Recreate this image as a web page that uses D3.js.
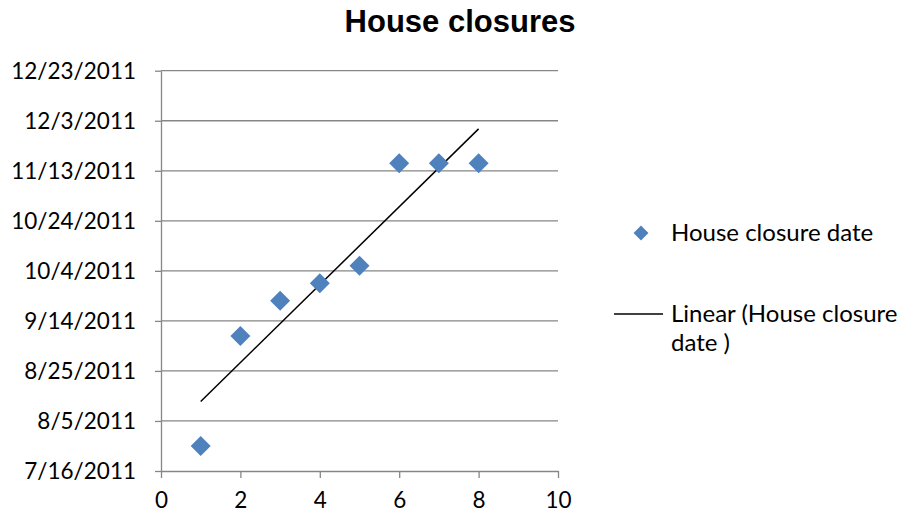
<!DOCTYPE html>
<html>
<head>
<meta charset="utf-8">
<script src="https://cdn.jsdelivr.net/npm/d3@7"></script>
<style>
  body { margin: 0; background: #fff; }
  text { font-family: Lato, "Liberation Sans", sans-serif; fill: #000; }
</style>
</head>
<body>
<div class="visuals"></div>
<script>
// house numbers and the closure date
const houses = [1, 2, 3, 4, 5, 6, 7, 8];
const closureDates = ["2011-07-26", "2011-09-08", "2011-09-22", "2011-09-29",
                      "2011-10-06", "2011-11-16", "2011-11-16", "2011-11-16"];
const xTicks = [0, 2, 4, 6, 8, 10];
const yTickLabels = ["7/16/2011", "8/5/2011", "8/25/2011", "9/14/2011", "10/4/2011",
                     "10/24/2011", "11/13/2011", "12/3/2011", "12/23/2011"];

const parse = d3.timeParse("%Y-%m-%d");
const parseLabel = d3.timeParse("%m/%d/%Y");
const points = houses.map((h, i) => ({ x: h, date: parse(closureDates[i]) }));
const yTicks = yTickLabels.map(s => parseLabel(s));

const width = 907, height = 518;
const fs = 22.5;
const svg = d3.select(".visuals").append("svg")
  .attr("width", width).attr("height", height);

const x = d3.scaleLinear().domain([0, 10]).range([161, 558]);
const y = d3.scaleTime().domain([yTicks[0], yTicks[yTicks.length - 1]]).range([471, 70.7]);

// gridlines
svg.append("g").selectAll("line").data(yTicks.slice(1)).enter().append("line")
  .attr("x1", x(0)).attr("x2", x(10))
  .attr("y1", d => y(d)).attr("y2", d => y(d))
  .attr("stroke", "#868686").attr("stroke-width", 1.3);

// x axis
const xAxis = svg.append("g").attr("transform", `translate(0,${y(yTicks[0])})`)
  .call(d3.axisBottom(x).tickValues(xTicks).tickSize(7).tickPadding(14).tickSizeOuter(0));
// y axis
const yAxis = svg.append("g").attr("transform", `translate(${x(0)},0)`)
  .call(d3.axisLeft(y).tickValues(yTicks).tickFormat((d, i) => yTickLabels[i])
    .tickSize(6).tickPadding(19).tickSizeOuter(0));

[xAxis, yAxis].forEach(a => {
  a.select(".domain").attr("stroke", "#868686").attr("stroke-width", 1.3);
  a.selectAll(".tick line").attr("stroke", "#868686").attr("stroke-width", 1.3);
  a.selectAll(".tick text").attr("font-family", "Lato, sans-serif")
    .attr("font-size", fs).attr("fill", "#000");
});
yAxis.selectAll(".tick text").attr("dy", "0.35em");

// linear trend line (least squares on day values)
const xs = points.map(p => p.x), ys = points.map(p => +p.date);
const mx = d3.mean(xs), my = d3.mean(ys);
const slope = d3.sum(points, (p, i) => (xs[i] - mx) * (ys[i] - my)) /
              d3.sum(xs, v => (v - mx) * (v - mx));
const fit = v => new Date(my + slope * (v - mx));
const x0 = d3.min(xs), x1 = d3.max(xs);
svg.append("line")
  .attr("x1", x(x0)).attr("y1", y(fit(x0)))
  .attr("x2", x(x1)).attr("y2", y(fit(x1)))
  .attr("stroke", "#000").attr("stroke-width", 1.5);

// diamond markers
const diamond = d3.symbol().type(d3.symbolSquare).size(200);
svg.append("g").selectAll("path").data(points).enter().append("path")
  .attr("d", diamond)
  .attr("transform", d => `translate(${x(d.x)},${y(d.date)}) rotate(45)`)
  .attr("fill", "#4F81BD");

// title
svg.append("text").attr("x", 460).attr("y", 32).attr("text-anchor", "middle")
  .style("font-family", "'Liberation Sans', Arial, sans-serif")
  .attr("font-size", 31).attr("font-weight", "bold").text("House closures");

// legend
const lfs = 24;
const legend = svg.append("g");
legend.append("path").attr("d", d3.symbol().type(d3.symbolSquare).size(110))
  .attr("transform", "translate(641,233) rotate(45)").attr("fill", "#4F81BD");
legend.append("text").attr("x", 671).attr("y", 233).attr("dy", "0.35em")
  .attr("font-size", lfs).text("House closure date");
legend.append("line").attr("x1", 614).attr("x2", 663).attr("y1", 314).attr("y2", 314)
  .attr("stroke", "#000").attr("stroke-width", 1.5);
legend.append("text").attr("x", 671).attr("y", 314).attr("dy", "0.35em")
  .attr("font-size", lfs).text("Linear (House closure");
legend.append("text").attr("x", 671).attr("y", 343).attr("dy", "0.35em")
  .attr("font-size", lfs).text("date )");
</script>
</body>
</html>
